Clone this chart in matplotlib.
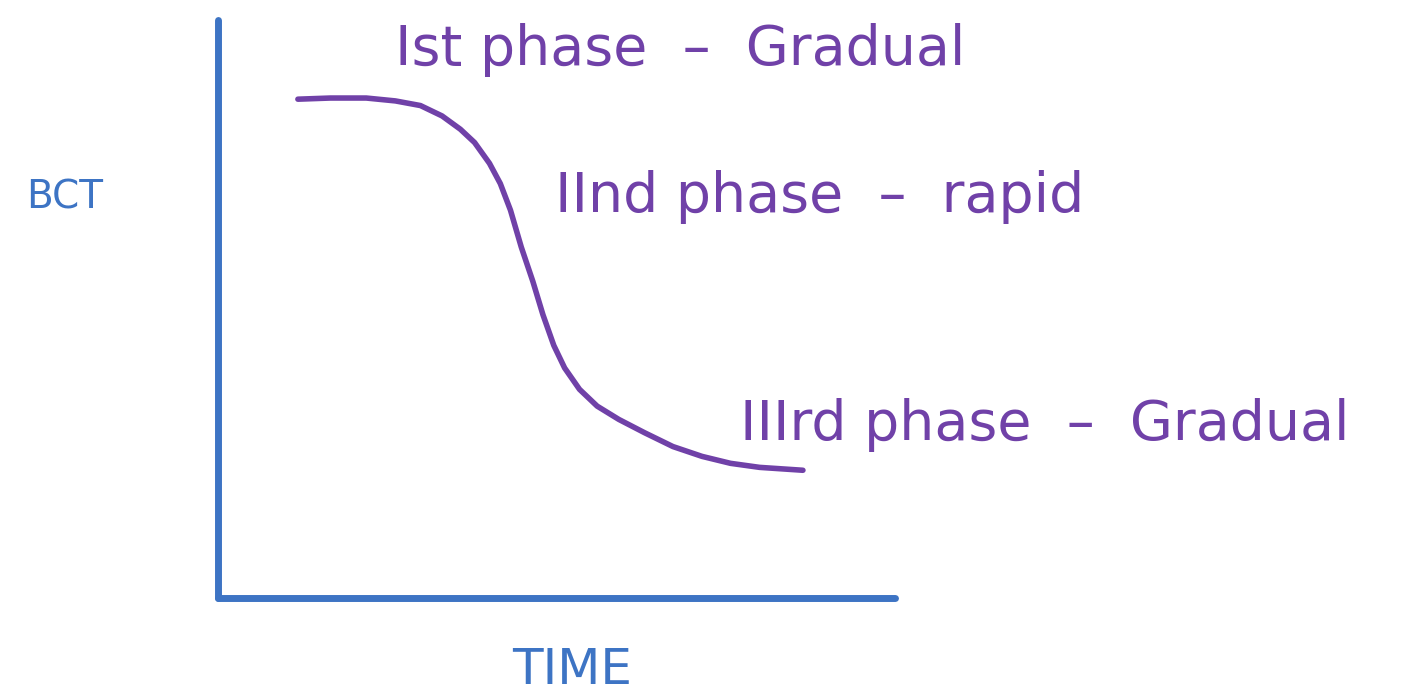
import matplotlib
matplotlib.use("Agg")
import matplotlib.pyplot as plt

# Data: BCT curve over time
time = [1.18, 1.66, 2.19, 2.62, 2.99, 3.31, 3.58, 3.79, 4.01, 4.17, 4.32, 4.48, 4.65,
        4.80, 4.96, 5.12, 5.34, 5.60, 5.92, 6.30, 6.72, 7.15, 7.57, 8.00, 8.64]
bct = [8.63, 8.65, 8.65, 8.60, 8.52, 8.34, 8.11, 7.88, 7.52, 7.17, 6.71, 6.07, 5.48,
       4.90, 4.37, 3.98, 3.61, 3.32, 3.09, 2.86, 2.62, 2.45, 2.33, 2.26, 2.21]
phase_labels = ["Ist phase  –  Gradual", "IInd phase  –  rapid", "IIIrd phase  –  Gradual"]
x_label = "TIME"
y_label = "BCT"

BLUE = "#3d74c4"
PURPLE = "#7041a8"

W, H = 1427, 697
fig = plt.figure(figsize=(W / 100, H / 100), dpi=100)
ax = fig.add_axes([218 / W, (H - 598) / H, (895 - 218) / W, (598 - 20) / H])
ax.set_xlim(0, 10)
ax.set_ylim(0, 10)
for s in ["top", "right"]:
    ax.spines[s].set_visible(False)
for s in ["left", "bottom"]:
    ax.spines[s].set_color(BLUE)
    ax.spines[s].set_linewidth(5)
    ax.spines[s].set_capstyle("round")
ax.set_xticks([])
ax.set_yticks([])

ax.plot(time, bct, color=PURPLE, lw=4, solid_capstyle="round", solid_joinstyle="round")

font = "DejaVu Sans"
ax.text(2.61, 9.48, phase_labels[0], color=PURPLE, fontsize=40, family=font,
        ha="left", va="center", clip_on=False)
ax.text(4.98, 6.94, phase_labels[1], color=PURPLE, fontsize=40, family=font,
        ha="left", va="center", clip_on=False)
ax.text(7.71, 2.99, phase_labels[2], color=PURPLE, fontsize=40, family=font,
        ha="left", va="center", clip_on=False)

fig.text(65 / W, 1 - 197 / H, y_label, color=BLUE, fontsize=28, family=font,
         ha="center", va="center")
fig.text(572 / W, 1 - 670 / H, x_label, color=BLUE, fontsize=36, family=font,
         ha="center", va="center")

fig.savefig("out.png", dpi=100)
